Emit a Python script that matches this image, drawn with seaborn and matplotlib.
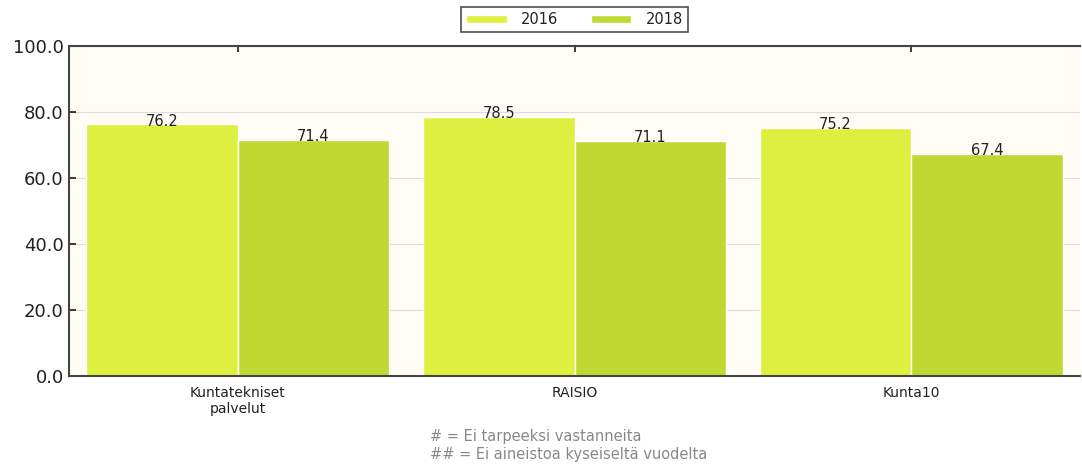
import matplotlib
matplotlib.use("Agg")
import matplotlib.pyplot as plt
import seaborn as sns
import pandas as pd

categories = ["Kuntatekniset\npalvelut", "RAISIO", "Kunta10"]
years = ["2016", "2018"]
values_2016 = [76.2, 78.5, 75.2]
values_2018 = [71.4, 71.1, 67.4]
colors = ["#dfef3f", "#c0d832"]

df = pd.DataFrame({
    "category": categories * 2,
    "year": [years[0]] * 3 + [years[1]] * 3,
    "value": values_2016 + values_2018,
})

sns.set_theme(style="white")
plt.rcParams["font.family"] = ["DejaVu Sans"]

fig = plt.figure(figsize=(10.82, 4.73), dpi=100)
ax = fig.add_axes([0.064, 0.205, 0.934, 0.698])
ax.set_facecolor("#fffcf5")

sns.barplot(data=df, x="category", y="value", hue="year", order=categories,
            hue_order=years, palette=colors, saturation=1, width=0.9, gap=0,
            edgecolor="white", linewidth=1, ax=ax, legend=True)

for cont in ax.containers:
    ax.bar_label(cont, fmt="%.1f", padding=-3, fontsize=10.5, color="#222222")

ax.set_xlim(-0.5, 2.5)
ax.set_ylim(0, 100)
ax.set_yticks([0, 20, 40, 60, 80, 100])
ax.set_yticklabels([f"{v:.1f}" for v in [0, 20, 40, 60, 80, 100]], fontsize=13, color="#222222")
ax.set_xlabel("")
ax.set_ylabel("")
ax.tick_params(axis="x", labelsize=10, colors="#222222", top=True, bottom=False,
               direction="in", length=4, pad=7)
ax.tick_params(axis="y", left=True, direction="in", length=5, colors="#222222", pad=4)
ax.yaxis.grid(True, color="#dddddd", linewidth=0.8)
ax.set_axisbelow(True)
for s in ["left", "bottom", "top"]:
    ax.spines[s].set_color("#444444")
    ax.spines[s].set_linewidth(1.5)
ax.spines["right"].set_visible(False)

leg = ax.legend(loc="lower center", bbox_to_anchor=(0.5, 1.02), ncol=2,
                frameon=True, fontsize=10.5, handlelength=2.8, handleheight=0.5,
                handletextpad=1.0, columnspacing=2.2, borderpad=0.35, fancybox=False)
leg.get_frame().set_edgecolor("#222222")
leg.get_frame().set_linewidth(1.2)
for t in leg.get_texts():
    t.set_color("#222222")

fig.text(0.397, 0.092, "# = Ei tarpeeksi vastanneita\n## = Ei aineistoa kyseiseltä vuodelta",
         fontsize=10.5, color="#888888", ha="left", va="top", linespacing=1.25)

fig.savefig("out.png", dpi=100, facecolor="white")
